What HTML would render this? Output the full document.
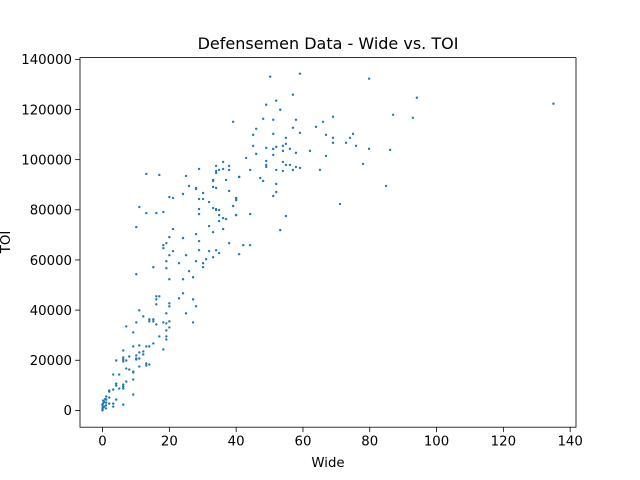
<!DOCTYPE html>
<html><head><meta charset="utf-8"><style>
body{margin:0;background:#fff}
svg{display:block;font-family:"DejaVu Sans","Liberation Sans",sans-serif}
</style></head><body>
<svg id="chart" width="640" height="480">
<rect width="640" height="480" fill="#fff"/>
<text x="328" y="49" text-anchor="middle" font-size="16">Defensemen Data - Wide vs. TOI</text>
<g id="plot"></g>
<text x="328" y="467" text-anchor="middle" font-size="13.3">Wide</text>
<text x="0" y="0" transform="translate(10,242) rotate(-90)" text-anchor="middle" font-size="13.3">TOI</text>
</svg>
<script>
const xTicks=[0,20,40,60,80,100,120,140];
const yTicks=[0,20000,40000,60000,80000,100000,120000,140000];
const wide=[50.2,59.1,79.8,57.0,49.0,52.0,53.2,39.1,48.1,51.1,57.9,46.0,57.0,63.9,66.0,69.0,45.1,51.1,59.1,66.9,75.0,74.1,72.9,69.0,69.0,75.9,79.8,54.9,54.9,54.0,52.0,51.1,49.0,45.1,54.0,56.1,57.9,62.1,66.9,46.0,43.0,51.1,49.0,49.0,49.0,54.0,54.9,56.1,57.9,59.1,57.0,54.0,52.0,44.2,65.1,78.0,40.9,47.2,48.1,52.0,52.0,51.1,40.0,40.0,39.1,40.0,44.2,54.9,71.1,53.2,42.1,44.2,40.9,
94.1,87.0,92.9,86.1,84.9,135,
13.1,17.0,25.0,28.9,36.1,34.0,37.9,34.9,36.1,37.9,34.0,34.0,40.9,33.1,33.1,37.0,25.9,28.0,28.0,33.1,34.0,37.9,30.1,24.1,20.0,21.1,28.9,30.1,40.0,40.0,31.9,39.1,11.0,28.9,33.1,34.0,34.0,34.9,13.1,16.1,18.2,28.9,34.9,40.0,36.1,37.0,34.9,10.1,31.9,21.1,36.1,33.1,28.0,20.0,24.1,28.9,19.1,18.2,18.2,37.9,21.1,28.9,31.9,34.0,34.9,20.0,25.0,33.1,31.0,19.1,28.0,22.9,30.1,15.2,19.1,30.1,25.9,10.1,27.1,20.0,24.1,24.1,22.9,27.1,16.1,17.0,16.1,16.1,20.0,20.0,28.0,11.0,25.0,27.1,
12.2,14.0,14.0,15.2,15.2,16.1,19.1,18.2,19.1,20.0,20.0,7.1,10.1,9.2,19.1,17.0,19.1,19.1,15.2,18.2,9.2,11.0,13.1,14.0,6.2,12.2,12.2,11.0,10.1,8.0,6.2,6.2,6.2,7.1,4.1,10.1,10.1,11.0,11.0,13.1,13.1,14.0,7.1,8.0,9.2,9.2,3.2,5.0,9.2,7.1,4.1,4.1,6.2,6.2,6.2,5.0,3.2,2.0,2.0,9.2,1.1,1.1,2.0,4.1,0.2,1.1,3.2,2.0,6.2,3.2,
0,0,0,0.5,0,1,0.3,0.5,1,0,0.8,0.2];
const toi=[133100,134300,132300,125900,121900,123500,119900,115100,116300,115900,115900,112300,112700,113100,115100,117100,109900,110300,110700,109900,110300,108700,106700,108700,106700,105500,104300,108700,106300,105500,105100,104300,104700,105500,103500,104300,102700,103500,101500,102300,100700,101900,99500,97900,97100,99100,97900,97900,97100,96700,95900,95500,95900,95900,95900,98300,93100,92700,91500,90300,87100,85500,84700,83900,81500,77900,78300,77500,82300,71900,65900,65900,62300,
124700,117900,116700,103900,89500,122300,
94300,93900,93500,96300,99100,97500,97500,95900,96300,95900,95500,94700,93100,91900,91500,91900,89500,88700,88300,89100,88700,87500,86700,86300,85100,84700,84300,84300,84700,83900,83100,81500,81100,80300,80700,80300,79900,79900,78700,78700,79100,78300,77900,77900,76700,76300,75500,73100,73500,72300,72300,71100,70300,69100,68700,67500,66700,65900,64700,66700,63500,63900,63500,63900,62700,61900,61900,61100,60300,59500,59500,58700,58700,57100,56700,57100,55500,54300,53100,52300,52300,46700,44700,44300,45500,45500,44300,42300,42700,41500,41500,39900,38700,35100,
37500,36300,35500,36300,35500,34300,38700,35100,34700,35500,33100,33500,35100,31100,31900,29500,29500,28300,26700,24300,25500,25900,25500,25500,23900,23500,22300,23100,21900,21500,21100,20300,19500,19900,19900,20700,20300,20700,17500,18700,17900,18300,16700,16300,15500,15100,14300,14300,12300,11500,10700,9900,10300,9500,8700,8700,8300,7900,7500,6300,5500,4300,5100,4300,3900,3100,2700,2700,2300,1500,
0,500,1000,1500,2000,800,3000,3500,2000,2500,4500,1200];

const L=80,R=576,T=57.6,B=427.2;
const xMin=-6.75,xMax=141.75,yMin=-6700,yMax=140700;
const sx=v=>L+(v-xMin)/(xMax-xMin)*(R-L);
const sy=v=>B-(v-yMin)/(yMax-yMin)*(B-T);
const NS='http://www.w3.org/2000/svg';
const g=document.getElementById('plot');
function mk(t,a){const e=document.createElementNS(NS,t);for(const k in a)e.setAttribute(k,a[k]);g.appendChild(e);return e;}
for(let i=0;i<wide.length;i++){
  const c=mk('circle',{cx:sx(wide[i]),cy:sy(toi[i]),r:1.2,fill:'#1f77b4'});
  
  
}
xTicks.forEach(v=>{
  const x=sx(v);
  const l=mk('line',{x1:x,x2:x,y1:B,y2:B+4.9,stroke:'#000','stroke-width':0.8});
  
  
  const t=mk('text',{x:x,y:B+18.5,'text-anchor':'middle','font-size':13.3});
  t.textContent=v;
  
  
});
yTicks.forEach(v=>{
  const y=sy(v);
  const l=mk('line',{x1:L-4.9,x2:L,y1:y,y2:y,stroke:'#000','stroke-width':0.8});
  
  
  const t=mk('text',{x:L-8,y:y+4.8,'text-anchor':'end','font-size':13.3});
  t.textContent=v;
  
  
});
const fr=mk('rect',{x:L,y:T,width:R-L,height:B-T,fill:'none',stroke:'#000','stroke-width':0.8});


</script>
</body></html>
